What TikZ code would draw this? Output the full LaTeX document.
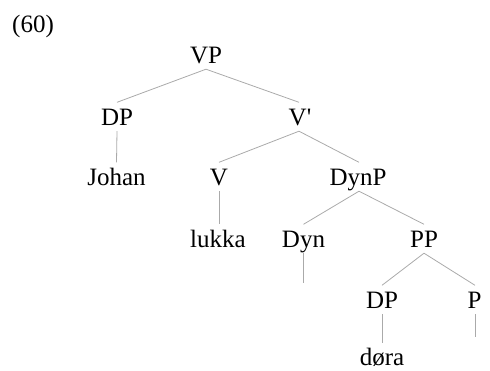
\documentclass[tikz,border=0pt]{standalone}
\usepackage{fontspec}
\setmainfont{Liberation Serif}[Ligatures=TeXOff]
\usepackage{xcolor}
\definecolor{branchgray}{RGB}{170,170,170}
\usetikzlibrary{positioning}

\begin{document}
\begin{tikzpicture}[x=1pt,y=-1pt,
cat/.style={anchor=base,font=\fontsize{25}{30}\selectfont,text height=16.5pt,text depth=0pt,inner xsep=0pt,inner ysep=6pt},
branch/.style={draw=branchgray,line width=0.8pt}]
\useasboundingbox (0,0) rectangle (490,370);
\node[cat,anchor=base west] (ex) at (12,32.5) {(60)};
\node[cat] (vp)    at (206,63)  {VP};
\node[cat] (dp)    at (117,125) {DP};
\node[cat] (vbar)  at (300,125) {V'};
\node[cat] (johan) at (116.5,185) {Johan};
\node[cat] (v)     at (219,185) {V};
\node[cat] (dynp)  at (358,185) {DynP};
\node[cat] (lukka) at (218,247) {lukka};
\node[cat] (dyn)   at (303.5,247) {Dyn};
\node[cat] (pp)    at (424,247) {PP};
\node[cat] (dpb)   at (382,308) {DP};
\node[cat] (p)     at (474.5,308) {P};
\node[cat,inner ysep=3pt] (dora) at (382,365.5) {døra};
\coordinate (dynend) at (303.5,283);
\coordinate (pend) at (475,337);
\draw[branch] (vp.south)--(dp.north); \draw[branch] (vp.south)--([xshift=-1pt]vbar.north);
\draw[branch] (dp.south)--(johan.north);
\draw[branch] ([xshift=-1pt]vbar.south)--(v.north); \draw[branch] ([xshift=-1pt]vbar.south)--([xshift=1pt]dynp.north);
\draw[branch] (v.south)--(lukka.north-|v.south);
\draw[branch] ([xshift=1pt]dynp.south)--(dyn.north); \draw[branch] ([xshift=1pt]dynp.south)--(pp.north);
\draw[branch] (dyn.south)--(dynend);
\draw[branch] (pp.south)--(dpb.north); \draw[branch] (pp.south)--(p.north-|pend);
\draw[branch] (dpb.south)--([yshift=3pt]dora.north);
\draw[branch] (p.south-|pend)--(pend);
\end{tikzpicture}
\end{document}
